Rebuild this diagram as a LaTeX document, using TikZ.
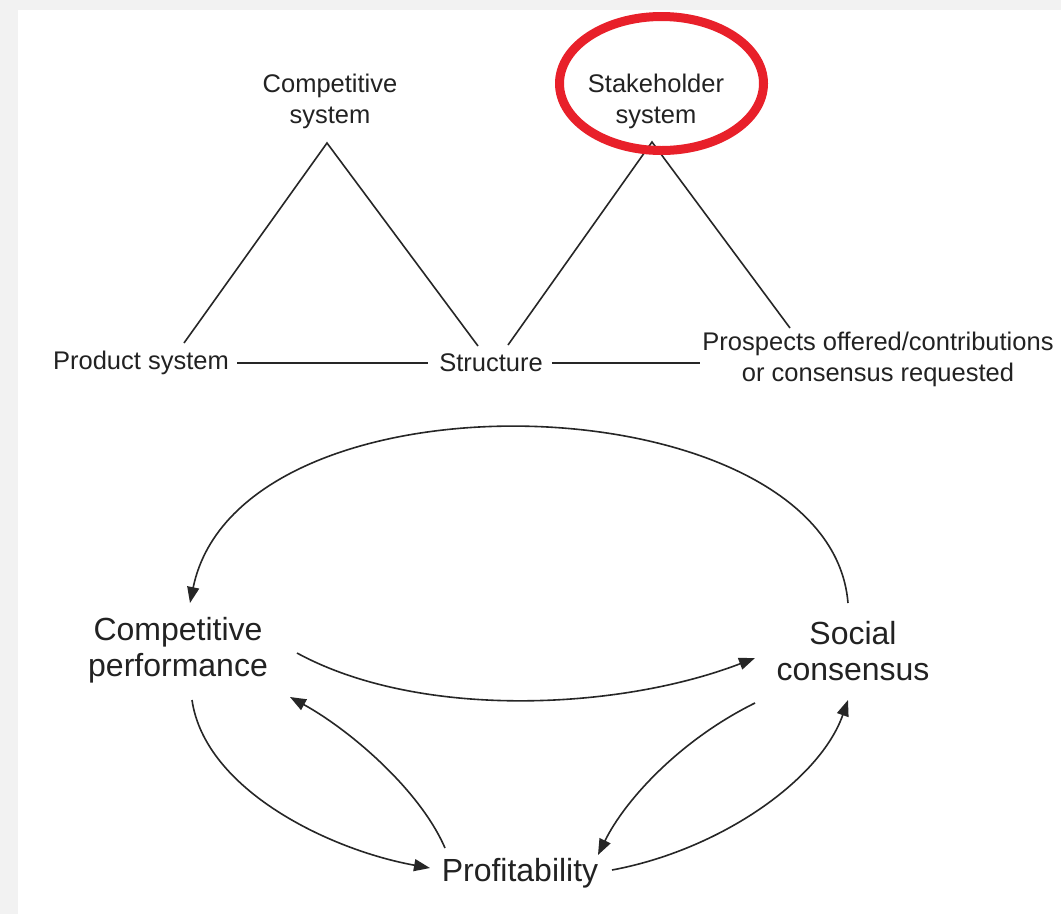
\documentclass[tikz,border=0pt]{standalone}
\usepackage{fontspec}
\setmainfont{Liberation Sans}
\usetikzlibrary{arrows.meta,calc}
\definecolor{bggray}{HTML}{F2F2F2}
\definecolor{txt}{HTML}{222222}
\definecolor{ln}{HTML}{262626}
\definecolor{ringred}{HTML}{E8202A}
\begin{document}
\begin{tikzpicture}[x=1pt,y=-1pt,
  lbl/.style={font=\fontsize{25.5}{31}\selectfont, align=center, inner sep=0pt, text=txt},
  big/.style={font=\fontsize{32}{36}\selectfont, align=center, inner sep=0pt, text=txt},
  conn/.style={line width=1.6pt, draw=ln},
  arr/.style={conn, -{Triangle[length=16pt,width=12pt]}}]
\fill[bggray] (0,0) rectangle (1061,914);
\fill[white] (18,10) rectangle (1061,914);
\useasboundingbox (0,0) rectangle (1061,914);

% top labels
\node[lbl] (cs) at (330,101) {Competitive\\system};
\node[lbl] (sh) at (656,101) {Stakeholder\\system};
\node[lbl] (ps) at (141,363) {Product system};
\node[lbl] (st) at (491,363) {Structure};
\node[lbl] (pr) at (878,359) {Prospects offered/contributions\\or consensus requested};

% triangle corners
\coordinate (csA) at ($(cs)+(-3,42)$);
\coordinate (csL) at ($(ps)+(43,-20)$);
\coordinate (csR) at ($(st)+(-13,-17)$);
\coordinate (shA) at ($(sh)+(-4,41)$);
\coordinate (shL) at ($(st)+(17,-18)$);
\coordinate (shR) at ($(pr)+(-88,-31)$);

\draw[conn] (csL) -- (csA) -- (csR);
\draw[conn] (shL) -- (shA) -- (shR);
\draw[conn, shorten <=8pt, shorten >=11pt] (ps.east) -- (st.west);
\draw[conn, shorten <=9pt, shorten >=2pt] (st.east) -- (st.east -| pr.west);

% red ring
\draw[ringred, line width=9pt] (661.5,83.5) ellipse [x radius=102pt, y radius=67pt];

% bottom cycle
\node[big] (cp) at (178,650) {Competitive\\performance};
\node[big] (sc) at (853,651) {Social\\consensus};
\node[big] (pf) at (520,873) {Profitability};

\draw[arr] ($(sc)+(-5,-48)$) .. controls (830,380) and (240,360) .. ($(cp)+(12,-47)$);
\draw[arr] ($(cp)+(119,3)$) .. controls (420,720) and (620,710) .. ($(sc)+(-98,7)$);
\draw[arr] ($(cp)+(14,50)$) .. controls (205,790) and (330,850) .. ($(pf)+(-90,-5)$);
\draw[arr] ($(pf)+(-75,-25)$) .. controls (420,790) and (350,730) .. ($(cp)+(112,47)$);
\draw[arr] ($(sc)+(-98,52)$) .. controls (680,740) and (625,800) .. ($(pf)+(78,-18)$);
\draw[arr] ($(pf)+(92,-3)$) .. controls (720,850) and (820,780) .. ($(sc)+(-5,49)$);
\end{tikzpicture}
\end{document}
